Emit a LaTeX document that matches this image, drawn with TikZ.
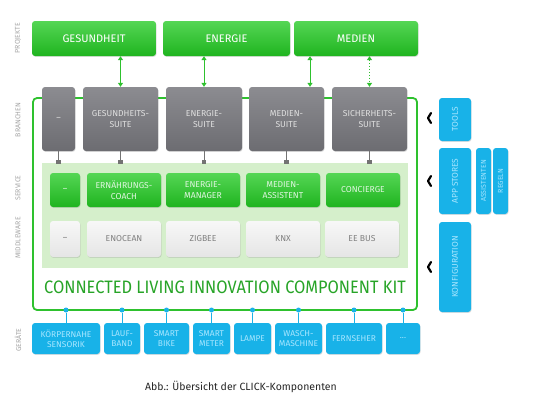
\documentclass[tikz,border=0pt]{standalone}
\usepackage{fontspec}
\setsansfont{Fira Sans}
\usepackage{tikz}
\usetikzlibrary{arrows.meta,shadows,calc}

\definecolor{clgreen}{HTML}{2EC12E}
\definecolor{clgreentop}{HTML}{55D655}
\definecolor{clgreenbot}{HTML}{1FB41F}
\definecolor{clpale}{HTML}{D5EFCB}
\definecolor{clgraytop}{HTML}{8C8C91}
\definecolor{clgraybot}{HTML}{6C6C71}
\definecolor{clblue}{HTML}{18B2E8}
\definecolor{clbluetext}{HTML}{A8E6FF}
\definecolor{cllabel}{HTML}{A5A5A5}

\tikzset{
  box/.style={rounded corners=3pt, align=center, inner sep=1pt,
    drop shadow={shadow xshift=0.6pt, shadow yshift=-0.9pt, opacity=0.25}},
  projekt/.style={box, top color=clgreentop, bottom color=clgreenbot,
    text=white, font=\sffamily\fontsize{11}{12}\selectfont},
  branche/.style={box, top color=clgraytop, bottom color=clgraybot,
    text=white!88!black, font=\sffamily\fontsize{8.6}{10.5}\selectfont},
  service/.style={box, top color=clgreentop, bottom color=clgreenbot,
    text=white!85!clgreen, font=\sffamily\fontsize{8.6}{10.5}\selectfont},
  middle/.style={box, top color=white!97!black, bottom color=white!90!black,
    text=black!50, font=\sffamily\fontsize{8.6}{10}\selectfont},
  geraet/.style={box, fill=clblue, text=clbluetext,
    font=\sffamily\fontsize{8.4}{10}\selectfont},
  ebene/.style={rotate=90, text=cllabel, font=\sffamily\fontsize{7}{8}\selectfont},
  link/.style={draw=clgreen, line width=1pt, {Triangle[length=4pt,width=5pt]}-{Triangle[length=4pt,width=5pt]}},
  stub/.style={draw=black!55, line width=0.8pt},
  dot/.style={circle, fill=clblue, inner sep=0pt, minimum size=5pt},
  chevron/.style={line width=2.2pt, line cap=round, line join=round}
}

\begin{document}
\begin{tikzpicture}[x=1pt,y=-1pt]
\useasboundingbox (0,0) rectangle (552,408);

% ebenen
\node[ebene] (lp) at (18,38) {PROJEKTE};
\node[ebene] (lb) at (18,120) {BRANCHEN};
\node[ebene] (ls) at (18,188) {SERVICE};
\node[ebene] (lm) at (18,238) {MIDDLEWARE};
\node[ebene] (lg) at (18,340) {GERÄTE};

% kit rahmen und service feld
\draw[clgreen, line width=1.8pt, rounded corners=4pt] (33,98) rectangle (417,310);
\fill[clpale] (42,163) rectangle (408,268);

% projekte
\node[projekt, minimum width=124, minimum height=35] (pg) at (94,38.5) {GESUNDHEIT};
\node[projekt, minimum width=127, minimum height=35] (pe) at (226.5,38.5) {ENERGIE};
\node[projekt, minimum width=124, minimum height=35] (pm) at (356,38.5) {MEDIEN};

% branchen
\node[branche, minimum width=33, minimum height=64] (b0) at (58.5,119) {--};
\node[branche, minimum width=75, minimum height=64] (b1) at (120.5,119) {GESUNDHEITS-\\SUITE};
\node[branche, minimum width=76, minimum height=64] (b2) at (204,119) {ENERGIE-\\SUITE};
\node[branche, minimum width=75, minimum height=64] (b3) at (286.5,119) {MEDIEN-\\SUITE};
\node[branche, minimum width=75, minimum height=64] (b4) at (369.5,119) {SICHERHEITS-\\SUITE};

\draw[link] (pg.south -| b1.north) -- (b1.north);
\draw[link] (pe.south -| b2.north) -- (b2.north);
\draw[link] (pm.south -| 310,0) -- (b3.north -| 310,0);
\draw[link, dotted] (pm.south -| b4.north) -- (b4.north);

% service
\node[service, minimum width=30, minimum height=34] (s0) at (65,190) {--};
\node[service, minimum width=74, minimum height=34] (s1) at (124,190) {ERNÄHRUNGS-\\COACH};
\node[service, minimum width=74, minimum height=34] (s2) at (203,190) {ENERGIE-\\MANAGER};
\node[service, minimum width=74, minimum height=34] (s3) at (283,190) {MEDIEN-\\ASSISTENT};
\node[service, minimum width=74, minimum height=34] (s4) at (363,190) {CONCIERGE};

\foreach \b in {b0,b1,b2,b3,b4}{
  \coordinate (q\b) at (\b.south |- 0,162);
  \draw[stub] (\b.south) -- (q\b);
  \fill[black!55] ($(q\b)+(-2.2,-2.2)$) rectangle ($(q\b)+(2.2,2.2)$);
}

% middleware
\node[middle, minimum width=30, minimum height=36] (m0) at (65,239) {--};
\node[middle, minimum width=74, minimum height=36] (m1) at (124,239) {ENOCEAN};
\node[middle, minimum width=74, minimum height=36] (m2) at (203,239) {ZIGBEE};
\node[middle, minimum width=74, minimum height=36] (m3) at (283,239) {KNX};
\node[middle, minimum width=74, minimum height=36] (m4) at (362,239) {EE BUS};

\node[text=clgreen!85!black, font=\sffamily\fontsize{18}{20}\selectfont] (kit) at (225,287)
  {\scalebox{0.91}[1]{CONNECTED LIVING INNOVATION COMPONENT KIT}};

% geraete
\node[geraet, minimum width=68, minimum height=31] (g1) at (66,338.5) {KÖRPERNAHE\\SENSORIK};
\node[geraet, minimum width=36, minimum height=31] (g2) at (122,338.5) {LAUF-\\BAND};
\node[geraet, minimum width=45, minimum height=31] (g3) at (166.5,338.5) {SMART\\BIKE};
\node[geraet, minimum width=37, minimum height=31] (g4) at (211.5,338.5) {SMART\\METER};
\node[geraet, minimum width=37, minimum height=31] (g5) at (252.5,338.5) {LAMPE};
\node[geraet, minimum width=47, minimum height=31] (g6) at (298.5,338.5) {WASCH-\\MASCHINE};
\node[geraet, minimum width=56, minimum height=31] (g7) at (354,338.5) {FERNSEHER};
\node[geraet, minimum width=34, minimum height=31] (g8) at (403,338.5) {...};

\foreach \g in {g1,g2,g3,g4,g5,g6,g7,g8}{
  \node[dot] (d\g) at (\g.north |- 0,310) {};
  \draw[clblue, line width=0.9pt] (d\g) -- (\g.north);
}

% werkzeuge rechts
\node[geraet, rotate=90, minimum width=43, minimum height=32] (tools) at (455,119.5) {TOOLS};
\node[geraet, rotate=90, minimum width=66, minimum height=32] (apps) at (455,181) {APP STORES};
\node[geraet, rotate=90, minimum width=66, minimum height=15, inner sep=0pt,
  font=\sffamily\fontsize{7}{8}\selectfont] (assi) at (483.5,181) {ASSISTENTEN};
\node[geraet, rotate=90, minimum width=66, minimum height=15, inner sep=0pt,
  font=\sffamily\fontsize{7}{8}\selectfont] (regeln) at (500.5,181) {REGELN};
\node[geraet, rotate=90, minimum width=90, minimum height=32] (konf) at (455,267) {KONFIGURATION};

\foreach \y [count=\i] in {118,181,267}{
  \coordinate (c\i) at (428,\y);
  \draw[chevron] ($(c\i)+(3,-5)$) -- (c\i) -- ($(c\i)+(3,5)$);
}

\node[text=black!85, font=\sffamily\fontsize{10.5}{12}\selectfont] (cap) at (241,387)
  {Abb.: Übersicht der CLICK-Komponenten};
\end{tikzpicture}
\end{document}
